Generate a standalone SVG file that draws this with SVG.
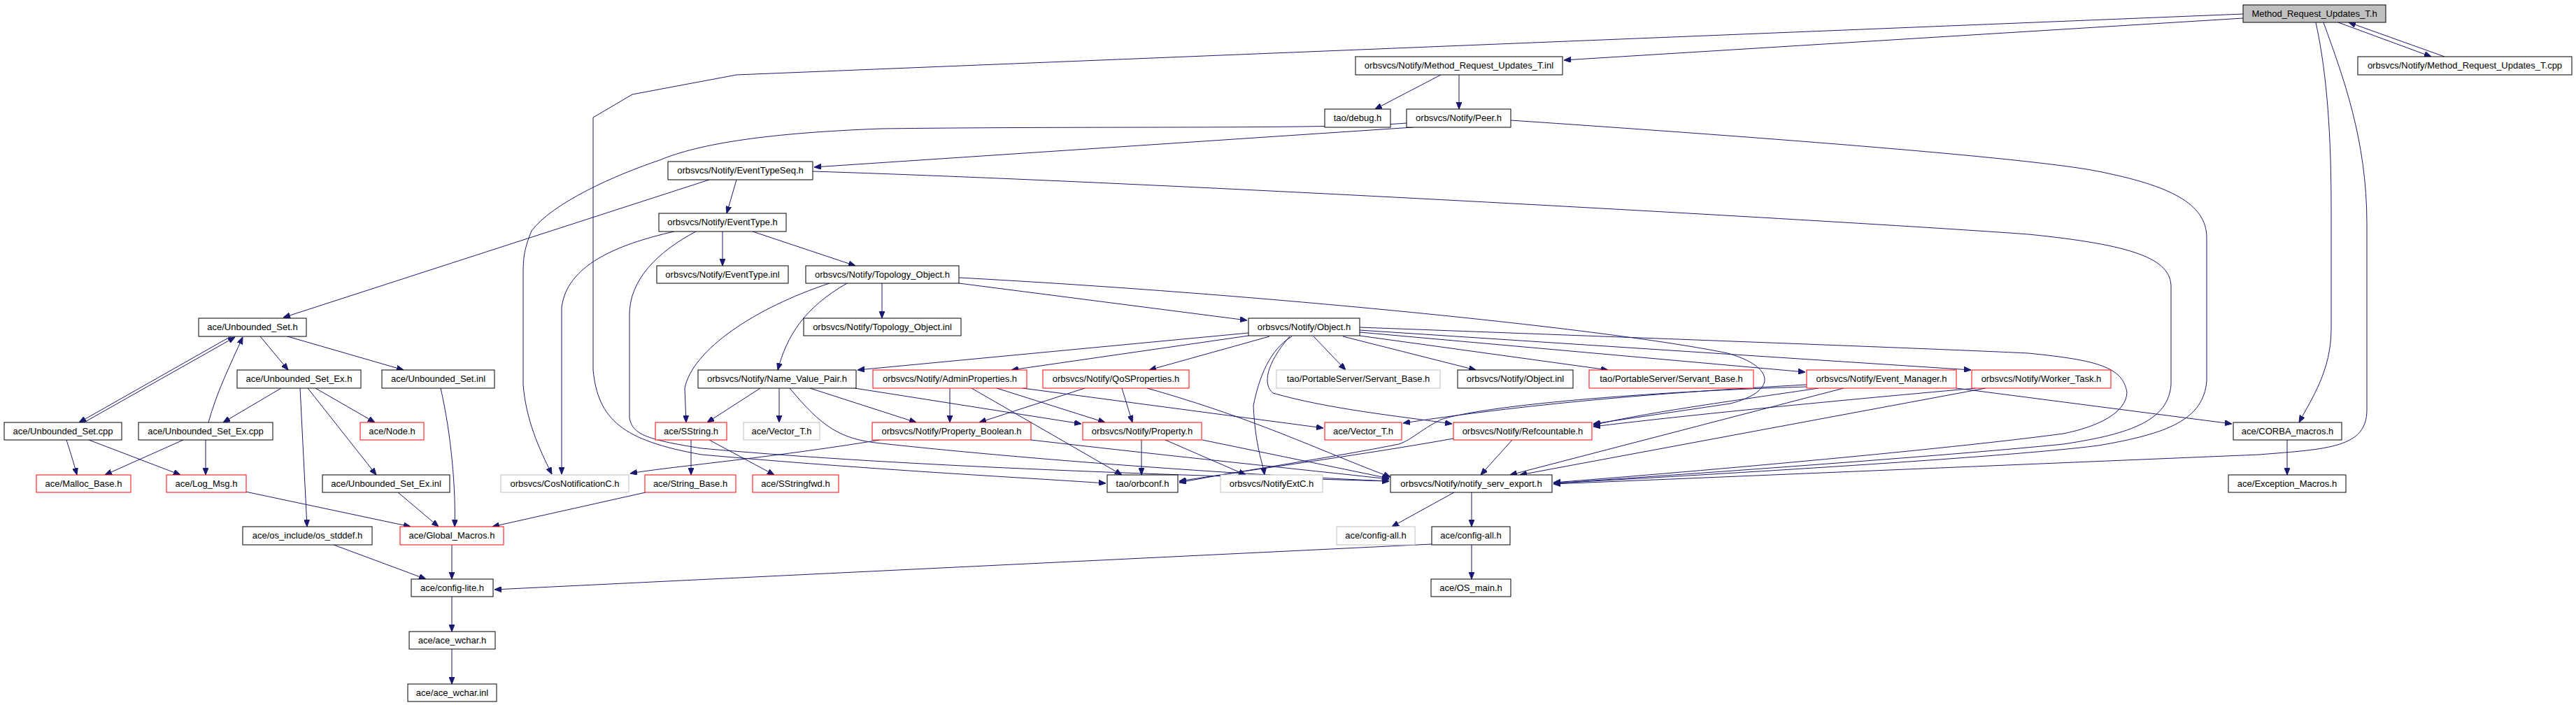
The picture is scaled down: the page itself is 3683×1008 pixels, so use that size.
<svg xmlns="http://www.w3.org/2000/svg" width="3683" height="1008" viewBox="0 0 3683 1008">
<style>
rect{fill:#fff;stroke:#000;stroke-width:1}
.r rect{stroke:#ff0000}
.g rect{stroke:#bfbfbf}
.root rect{fill:#bfbfbf}
text{font-family:"Liberation Sans",Arial,sans-serif;font-size:13px;fill:#000;text-anchor:middle}
#edges path{fill:none;stroke:#191970;stroke-width:1;marker-end:url(#a)}
</style>
<defs>
<marker id="a" markerWidth="10" markerHeight="8" refX="10" refY="4" orient="auto" markerUnits="userSpaceOnUse"><path d="M0,0 L10,4 L0,8 z" fill="#191970" stroke="#191970" stroke-width="1"/></marker>
</defs>
<rect x="0" y="0" width="3683" height="1008" style="fill:#fff;stroke:none"/>
<g id="edges">
<path d="M3207,26 L2236,86"/>
<path d="M3343,32 L3476,81"/>
<path d="M3495,81 L3358,32"/>
<path d="M3311,32 C3328,110 3333,200 3333,300 L3333,470 C3333,530 3305,570 3287,604"/>
<path d="M3322,32 C3350,110 3384,200 3384,320 L3384,586 C3384,640 3330,642 3230,650 L2221,692"/>
<path d="M3207,20 L1053,107 L904,135 L848,168 L848,529 C855,600 890,630 1003,650 C1250,672 1450,682 1581,691"/>
<path d="M2060,107 L1966,156"/>
<path d="M2086,107 L2086,156"/>
<path d="M2020,182 L1164,239"/>
<path d="M2011,176 C1900,185 1600,180 1260,184 C1100,190 1000,205 943,229 C880,250 790,290 760,330 C748,360 748,370 748,400 L748,550 C752,600 770,640 789,678"/>
<path d="M2160,172 C2500,195 2900,225 3000,245 C3100,265 3155,290 3155,340 L3155,545 C3150,600 3100,620 3000,637 C2900,650 2600,670 2221,691"/>
<path d="M1162,245 C1700,262 2700,320 2900,335 C3050,350 3104,370 3104,410 L3104,550 C3100,600 3050,620 2950,635 C2800,650 2500,672 2221,691"/>
<path d="M1053,257 L1039,305"/>
<path d="M1014,257 L405,454"/>
<path d="M1033,331 L1033,380"/>
<path d="M1076,331 L1223,380"/>
<path d="M964,331 C880,350 810,380 803,440 L803,678"/>
<path d="M995,331 C940,360 900,400 900,450 L900,598 C905,620 920,628 1003,641 C1300,668 1700,680 1986,688"/>
<path d="M1261,405 L1261,455"/>
<path d="M1371,405 L1783,458"/>
<path d="M1186,405 C1080,440 990,500 979,555 L981,604"/>
<path d="M1211,405 C1150,440 1125,480 1112,529"/>
<path d="M1371,397 C1800,420 2300,470 2470,505 C2540,525 2540,560 2474,577 L2278,606"/>
<path d="M1785,476 L1226,529"/>
<path d="M1785,480 L1446,529"/>
<path d="M1815,481 L1643,529"/>
<path d="M1878,481 L1924,529"/>
<path d="M1920,481 L2110,529"/>
<path d="M1944,480 L2299,529"/>
<path d="M1944,475 L2581,532"/>
<path d="M1944,472 L2818,529"/>
<path d="M1944,468 C2400,485 2800,500 2900,505 C3000,515 3035,525 3041,561 C3040,590 3000,610 2950,620 C2800,640 2500,668 2221,690"/>
<path d="M1847,481 C1815,500 1800,540 1792,580 C1795,640 1805,660 1808,679"/>
<path d="M1844,481 C1810,520 1805,550 1820,562 C1900,585 2000,595 2076,606"/>
<path d="M1087,555 L1011,604"/>
<path d="M1114,555 L1114,604"/>
<path d="M1158,555 L1310,604"/>
<path d="M1222,555 L1546,606"/>
<path d="M1129,555 C1175,610 1200,628 1260,634 C1500,660 1800,680 1986,688"/>
<path d="M1358,555 L1358,604"/>
<path d="M1425,555 L1580,604"/>
<path d="M1389,555 L1604,679"/>
<path d="M1462,555 L1892,612"/>
<path d="M1551,555 L1400,604"/>
<path d="M1604,555 L1619,604"/>
<path d="M1640,555 C1800,600 1900,650 1988,682"/>
<path d="M1258,629 C1100,655 950,668 901,677"/>
<path d="M1474,629 C1700,655 1850,670 1986,685"/>
<path d="M1632,629 L1632,679"/>
<path d="M1666,629 L1781,679"/>
<path d="M1719,629 L1986,684"/>
<path d="M2162,629 L2117,679"/>
<path d="M2078,627 C1950,650 1800,670 1686,688"/>
<path d="M2600,555 C2500,570 2350,590 2278,608"/>
<path d="M2583,550 C2400,560 2200,575 2006,605"/>
<path d="M2636,555 L2159,679"/>
<path d="M2797,555 L3191,606"/>
<path d="M2583,553 C2350,560 2120,580 2060,600 C2030,615 2020,628 2000,635 C1900,655 1780,672 1686,690"/>
<path d="M2839,555 L2173,679"/>
<path d="M2825,555 C2600,575 2400,595 2278,610"/>
<path d="M988,629 L988,679"/>
<path d="M1014,629 L1107,679"/>
<path d="M330,481 L113,604"/>
<path d="M120,604 L336,482"/>
<path d="M372,481 L412,529"/>
<path d="M411,481 L577,529"/>
<path d="M298,604 C310,560 330,520 347,482"/>
<path d="M402,555 L319,604"/>
<path d="M451,555 L536,604"/>
<path d="M440,555 L538,679"/>
<path d="M429,555 L439,753"/>
<path d="M630,555 C645,620 652,700 650,753"/>
<path d="M569,704 L627,753"/>
<path d="M351,703 L587,753"/>
<path d="M923,704 L704,753"/>
<path d="M95,629 C100,645 105,660 110,679"/>
<path d="M127,629 L258,679"/>
<path d="M262,629 L150,679"/>
<path d="M294,629 L294,679"/>
<path d="M646,779 L646,828"/>
<path d="M477,779 L609,828"/>
<path d="M2047,778 L707,843"/>
<path d="M646,853 L646,903"/>
<path d="M646,928 L646,978"/>
<path d="M2079,704 L1990,753"/>
<path d="M2104,704 L2104,753"/>
<path d="M2104,779 L2104,828"/>
<path d="M3270,629 L3270,679"/>
</g>
<g id="n0" class="root"><rect x="3207" y="7" width="204" height="25"/><text x="3309" y="24">Method_Request_Updates_T.h</text></g>
<g id="n1"><rect x="1938" y="81" width="296" height="26"/><text x="2086" y="98">orbsvcs/Notify/Method_Request_Updates_T.inl</text></g>
<g id="n2"><rect x="3371" y="81" width="306" height="26"/><text x="3524" y="98">orbsvcs/Notify/Method_Request_Updates_T.cpp</text></g>
<g id="n3"><rect x="1894" y="156" width="94" height="26"/><text x="1941" y="173">tao/debug.h</text></g>
<g id="n4"><rect x="2011" y="156" width="149" height="26"/><text x="2085.5" y="173">orbsvcs/Notify/Peer.h</text></g>
<g id="n5"><rect x="955" y="231" width="207" height="26"/><text x="1058.5" y="248">orbsvcs/Notify/EventTypeSeq.h</text></g>
<g id="n6"><rect x="942" y="305" width="182" height="26"/><text x="1033" y="322">orbsvcs/Notify/EventType.h</text></g>
<g id="n7"><rect x="939" y="380" width="188" height="25"/><text x="1033" y="397">orbsvcs/Notify/EventType.inl</text></g>
<g id="n8"><rect x="1152" y="380" width="219" height="25"/><text x="1261.5" y="397">orbsvcs/Notify/Topology_Object.h</text></g>
<g id="n9"><rect x="1149" y="455" width="225" height="25"/><text x="1261.5" y="472">orbsvcs/Notify/Topology_Object.inl</text></g>
<g id="n10"><rect x="1785" y="455" width="159" height="25"/><text x="1864.5" y="472">orbsvcs/Notify/Object.h</text></g>
<g id="n11"><rect x="284" y="455" width="154" height="26"/><text x="361" y="472">ace/Unbounded_Set.h</text></g>
<g id="n12"><rect x="339" y="529" width="177" height="26"/><text x="427.5" y="546">ace/Unbounded_Set_Ex.h</text></g>
<g id="n13"><rect x="546" y="529" width="161" height="26"/><text x="626.5" y="546">ace/Unbounded_Set.inl</text></g>
<g id="n14"><rect x="998" y="529" width="226" height="26"/><text x="1111" y="546">orbsvcs/Notify/Name_Value_Pair.h</text></g>
<g id="n15" class="r"><rect x="1248" y="529" width="220" height="26"/><text x="1358" y="546">orbsvcs/Notify/AdminProperties.h</text></g>
<g id="n16" class="r"><rect x="1491" y="529" width="209" height="26"/><text x="1595.5" y="546">orbsvcs/Notify/QoSProperties.h</text></g>
<g id="n17" class="g"><rect x="1825" y="529" width="234" height="26"/><text x="1942" y="546">tao/PortableServer/Servant_Base.h</text></g>
<g id="n18"><rect x="2084" y="529" width="165" height="26"/><text x="2166.5" y="546">orbsvcs/Notify/Object.inl</text></g>
<g id="n19" class="r"><rect x="2272" y="529" width="235" height="26"/><text x="2389.5" y="546">tao/PortableServer/Servant_Base.h</text></g>
<g id="n20" class="r"><rect x="2583" y="529" width="214" height="26"/><text x="2690" y="546">orbsvcs/Notify/Event_Manager.h</text></g>
<g id="n21" class="r"><rect x="2819" y="529" width="199" height="26"/><text x="2918.5" y="546">orbsvcs/Notify/Worker_Task.h</text></g>
<g id="n22"><rect x="6" y="604" width="168" height="25"/><text x="90" y="621">ace/Unbounded_Set.cpp</text></g>
<g id="n23"><rect x="198" y="604" width="192" height="25"/><text x="294" y="621">ace/Unbounded_Set_Ex.cpp</text></g>
<g id="n24" class="r"><rect x="515" y="604" width="91" height="25"/><text x="560.5" y="621">ace/Node.h</text></g>
<g id="n25" class="r"><rect x="937" y="604" width="102" height="25"/><text x="988" y="621">ace/SString.h</text></g>
<g id="n26" class="g"><rect x="1063" y="604" width="109" height="25"/><text x="1117.5" y="621">ace/Vector_T.h</text></g>
<g id="n27" class="r"><rect x="1247" y="604" width="227" height="25"/><text x="1360.5" y="621">orbsvcs/Notify/Property_Boolean.h</text></g>
<g id="n28" class="r"><rect x="1548" y="604" width="170" height="25"/><text x="1633" y="621">orbsvcs/Notify/Property.h</text></g>
<g id="n29" class="r"><rect x="1894" y="604" width="110" height="25"/><text x="1949" y="621">ace/Vector_T.h</text></g>
<g id="n30" class="r"><rect x="2078" y="604" width="198" height="25"/><text x="2177" y="621">orbsvcs/Notify/Refcountable.h</text></g>
<g id="n31"><rect x="3193" y="604" width="155" height="25"/><text x="3270.5" y="621">ace/CORBA_macros.h</text></g>
<g id="n32" class="r"><rect x="52" y="679" width="135" height="25"/><text x="119.5" y="696">ace/Malloc_Base.h</text></g>
<g id="n33" class="r"><rect x="238" y="679" width="114" height="25"/><text x="295" y="696">ace/Log_Msg.h</text></g>
<g id="n34"><rect x="461" y="679" width="182" height="25"/><text x="552" y="696">ace/Unbounded_Set_Ex.inl</text></g>
<g id="n35" class="g"><rect x="716" y="679" width="183" height="25"/><text x="807.5" y="696">orbsvcs/CosNotificationC.h</text></g>
<g id="n36" class="r"><rect x="922" y="679" width="130" height="25"/><text x="987" y="696">ace/String_Base.h</text></g>
<g id="n37" class="r"><rect x="1076" y="679" width="123" height="25"/><text x="1137.5" y="696">ace/SStringfwd.h</text></g>
<g id="n38"><rect x="1583" y="679" width="101" height="25"/><text x="1633.5" y="696">tao/orbconf.h</text></g>
<g id="n39" class="g"><rect x="1745" y="679" width="146" height="25"/><text x="1818" y="696">orbsvcs/NotifyExtC.h</text></g>
<g id="n40"><rect x="1988" y="679" width="231" height="25"/><text x="2103.5" y="696">orbsvcs/Notify/notify_serv_export.h</text></g>
<g id="n41"><rect x="3186" y="679" width="168" height="25"/><text x="3270" y="696">ace/Exception_Macros.h</text></g>
<g id="n42"><rect x="347" y="753" width="185" height="26"/><text x="439.5" y="770">ace/os_include/os_stddef.h</text></g>
<g id="n43" class="r"><rect x="572" y="753" width="148" height="26"/><text x="646" y="770">ace/Global_Macros.h</text></g>
<g id="n44" class="g"><rect x="1911" y="753" width="112" height="26"/><text x="1967" y="770">ace/config-all.h</text></g>
<g id="n45"><rect x="2047" y="753" width="112" height="26"/><text x="2103" y="770">ace/config-all.h</text></g>
<g id="n46"><rect x="588" y="828" width="117" height="25"/><text x="646.5" y="845">ace/config-lite.h</text></g>
<g id="n47"><rect x="2046" y="828" width="114" height="25"/><text x="2103" y="845">ace/OS_main.h</text></g>
<g id="n48"><rect x="585" y="903" width="123" height="25"/><text x="646.5" y="920">ace/ace_wchar.h</text></g>
<g id="n49"><rect x="583" y="978" width="127" height="25"/><text x="646.5" y="995">ace/ace_wchar.inl</text></g>
</svg>
